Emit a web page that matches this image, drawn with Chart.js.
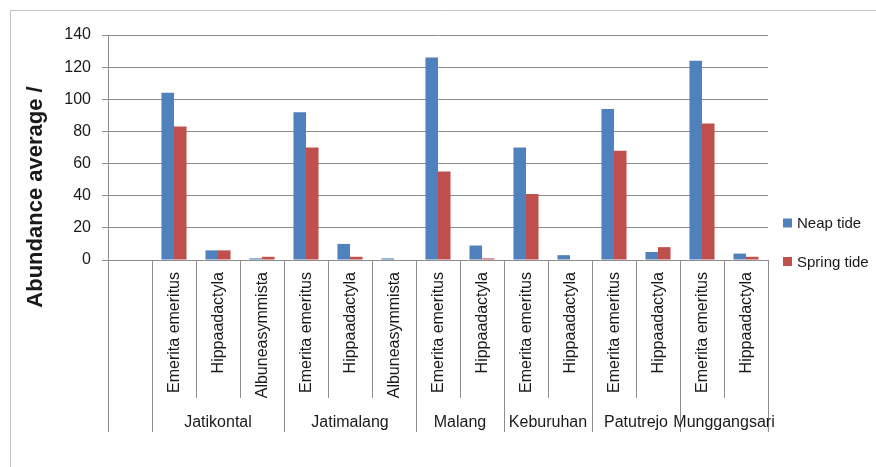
<!DOCTYPE html>
<html>
<head>
<meta charset="utf-8">
<script src="https://cdn.jsdelivr.net/npm/chart.js@4.4.1/dist/chart.umd.min.js"></script>
<style>
  html, body { margin: 0; padding: 0; background: #fff; }
  canvas { display: block; }
</style>
</head>
<body>
<canvas id="chart" width="876" height="467"></canvas>
<script>
// ====== data ======
const species = [
    '',
    'Emerita emeritus', 'Hippaadactyla', 'Albuneasymmista',
    'Emerita emeritus', 'Hippaadactyla', 'Albuneasymmista',
    'Emerita emeritus', 'Hippaadactyla',
    'Emerita emeritus', 'Hippaadactyla',
    'Emerita emeritus', 'Hippaadactyla',
    'Emerita emeritus', 'Hippaadactyla'
];
const siteNames = ['', 'Jatikontal', 'Jatimalang', 'Malang', 'Keburuhan', 'Patutrejo', 'Munggangsari'];
const siteSizes = [1, 3, 3, 2, 2, 2, 2];

const neapTide   = [null, 104, 6, 1, 92, 10, 1, 126, 9, 70, 3, 94, 5, 124, 4];
const springTide = [null, 83, 6, 2, 70, 2, 0, 55, 1, 41, 0, 68, 8, 85, 2];

const yTicks = { min: 0, max: 140, step: 20 };
const yTitle = 'Abundance average /';

// ====== style ======
const FONT = "'Liberation Sans', Arial, sans-serif";
const TEXT = '#1a1a1a';
const GRID = '#8e8e8e';

// Helper: draw frame, multi-level x axis, y title and legend
const decorPlugin = {
    id: 'decor',
    beforeDraw(chart) {
        const ctx = chart.ctx;
        ctx.save();
        ctx.strokeStyle = '#c4c4c4';
        ctx.lineWidth = 1;
        ctx.beginPath();
        ctx.moveTo(10.5, 467);
        ctx.lineTo(10.5, 10.5);
        ctx.lineTo(876, 10.5);
        ctx.stroke();
        ctx.restore();
    },
    afterDraw(chart) {
        const ctx = chart.ctx;
        const xs = chart.scales.x;
        const area = chart.chartArea;
        const n = species.length;
        const catW = (area.right - area.left) / n;

        ctx.save();

        // 1. Separator lines below the axis
        const groupEdges = new Set();
        let acc = 0;
        groupEdges.add(0);
        siteSizes.forEach(s => { acc += s; groupEdges.add(acc); });

        ctx.strokeStyle = GRID;
        ctx.lineWidth = 1;
        for (let i = 0; i <= n; i++) {
            const x = Math.round(area.left + i * catW) + 0.5;
            const yEnd = groupEdges.has(i) ? 432 : 398;
            ctx.beginPath();
            ctx.moveTo(x, area.bottom);
            ctx.lineTo(x, yEnd);
            ctx.stroke();
        }

        // 2. Species labels (rotated)
        ctx.fillStyle = TEXT;
        ctx.font = '16px ' + FONT;
        ctx.textAlign = 'right';
        ctx.textBaseline = 'middle';
        species.forEach((label, i) => {
            if (!label) return;
            const cx = xs.getPixelForValue(i);
            ctx.save();
            ctx.translate(cx + 1, area.bottom + 12);
            ctx.rotate(-Math.PI / 2);
            ctx.fillText(label, 0, 0);
            ctx.restore();
        });

        // 3. Site labels
        ctx.textAlign = 'center';
        ctx.textBaseline = 'alphabetic';
        let start = 0;
        siteNames.forEach((name, g) => {
            const end = start + siteSizes[g];
            const cx = (xs.getPixelForValue(start) + xs.getPixelForValue(end - 1)) / 2;
            if (name) ctx.fillText(name, cx, 427);
            start = end;
        });

        // 4. Y axis title
        ctx.font = 'bold 22px ' + FONT;
        ctx.textAlign = 'center';
        ctx.textBaseline = 'alphabetic';
        ctx.translate(42, 197);
        ctx.rotate(-Math.PI / 2);
        ctx.fillText(yTitle, 0, 0);
        ctx.restore();

        // 5. Legend
        ctx.save();
        ctx.font = '15px ' + FONT;
        ctx.textAlign = 'left';
        ctx.textBaseline = 'middle';
        const legendY = [223, 261.5];
        chart.data.datasets.forEach((ds, i) => {
            ctx.fillStyle = ds.backgroundColor;
            ctx.fillRect(783, legendY[i] - 4.5, 9, 9);
            ctx.fillStyle = TEXT;
            ctx.fillText(ds.label, 797, legendY[i] + 1);
        });
        ctx.restore();
    }
};

new Chart(document.getElementById('chart'), {
    type: 'bar',
    data: {
        labels: species,
        datasets: [
            { label: 'Neap tide', data: neapTide, backgroundColor: '#4F81BD' },
            { label: 'Spring tide', data: springTide, backgroundColor: '#C0504D' }
        ]
    },
    options: {
        responsive: false,
        devicePixelRatio: 1,
        animation: false,
        categoryPercentage: 0.57,
        barPercentage: 1,
        layout: { padding: { top: 35, right: 108, left: 0, bottom: 0 } },
        plugins: {
            legend: { display: false },
            tooltip: { enabled: false }
        },
        scales: {
            x: {
                offset: true,
                grid: { display: false },
                border: { display: false },
                ticks: { display: false },
                afterFit: (scale) => { scale.height = 207; }
            },
            y: {
                min: yTicks.min,
                max: yTicks.max,
                ticks: {
                    stepSize: yTicks.step,
                    color: TEXT,
                    padding: 11,
                    font: { family: FONT, size: 16 }
                },
                grid: { color: GRID, tickLength: 6, lineWidth: 1 },
                border: { display: true, color: GRID },
                afterFit: (scale) => { scale.width = 108; }
            }
        }
    },
    plugins: [decorPlugin]
});
</script>
</body>
</html>
